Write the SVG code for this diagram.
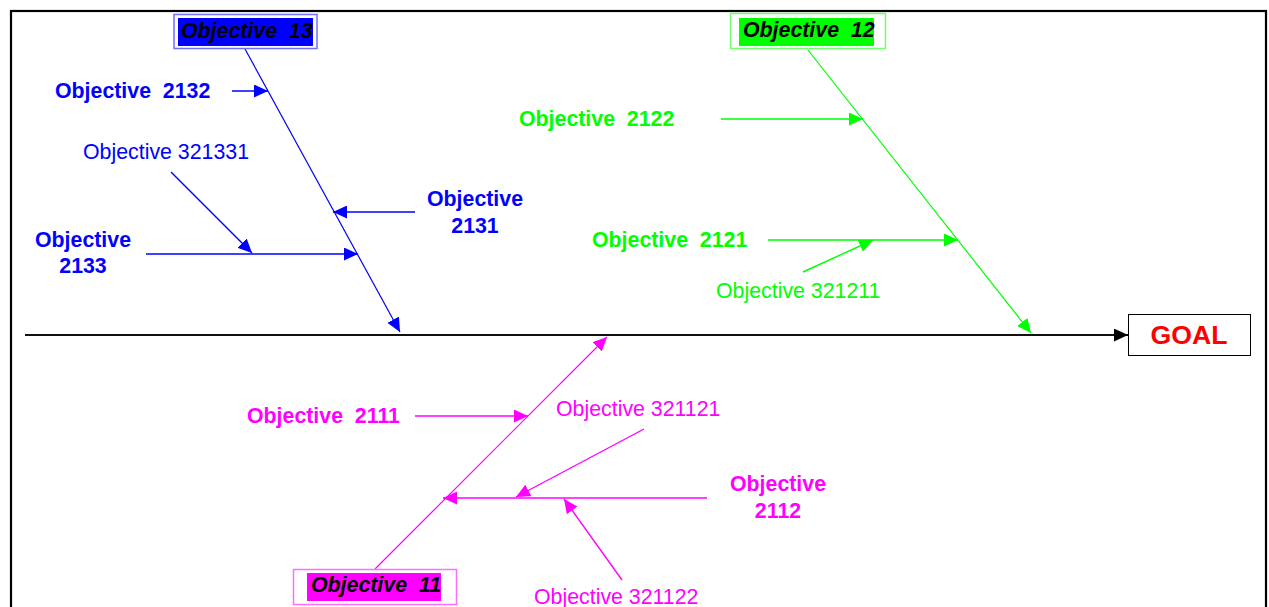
<svg xmlns="http://www.w3.org/2000/svg" width="1269" height="607" viewBox="0 0 1269 607">
  <style>
    text { font-family: "Liberation Sans", Arial, sans-serif; font-size: 21.33px; white-space: pre; }
    .b { font-weight: bold; }
    .hd { font-weight: bold; font-style: italic; fill: #000; }
    .blue { fill: #0000ff; }
    .green { fill: #00ff00; }
    .mag { fill: #ff00ff; }
    .mid { text-anchor: middle; }
    .lb { stroke: #0000ff; fill: none; }
    .lg { stroke: #00ff00; fill: none; }
    .lm { stroke: #ff00ff; fill: none; }
    .bone { stroke-width: 1.2; }
    .sub { stroke-width: 1.4; }
  </style>
  <defs>
    <marker id="ab" markerUnits="userSpaceOnUse" markerWidth="15" markerHeight="13" refX="14" refY="6.5" orient="auto">
      <path d="M0,0 L14,6.5 L0,13 Z" fill="#0000ff"/>
    </marker>
    <marker id="ag" markerUnits="userSpaceOnUse" markerWidth="15" markerHeight="13" refX="14" refY="6.5" orient="auto">
      <path d="M0,0 L14,6.5 L0,13 Z" fill="#00ff00"/>
    </marker>
    <marker id="am" markerUnits="userSpaceOnUse" markerWidth="15" markerHeight="13" refX="14" refY="6.5" orient="auto">
      <path d="M0,0 L14,6.5 L0,13 Z" fill="#ff00ff"/>
    </marker>
    <marker id="ak" markerUnits="userSpaceOnUse" markerWidth="15" markerHeight="13" refX="14" refY="6.5" orient="auto">
      <path d="M0,0 L14,6.5 L0,13 Z" fill="#000"/>
    </marker>
  </defs>

  <rect width="1269" height="607" fill="#fff"/>
  <!-- outer frame -->
  <rect x="11" y="11" width="1255" height="640" fill="none" stroke="#000" stroke-width="2.2"/>

  <!-- connectors -->
  <g id="connectors">
    <!-- main spine -->
    <line x1="25" y1="335" x2="1128" y2="335" stroke="#111" stroke-width="2" marker-end="url(#ak)"/>
    <!-- objective 13 branch -->
    <line class="lb bone" x1="245" y1="49" x2="400" y2="332" marker-end="url(#ab)"/>
    <line class="lb sub" x1="232" y1="91" x2="268" y2="91" marker-end="url(#ab)"/>
    <line class="lb sub" x1="415" y1="212" x2="333" y2="212" marker-end="url(#ab)"/>
    <line class="lb sub" x1="146" y1="254" x2="358" y2="254" marker-end="url(#ab)"/>
    <line class="lb sub" x1="171" y1="172" x2="252" y2="253" marker-end="url(#ab)"/>
    <!-- objective 12 branch -->
    <line class="lg bone" x1="808" y1="50" x2="1031" y2="333" marker-end="url(#ag)"/>
    <line class="lg sub" x1="721" y1="119" x2="863" y2="119" marker-end="url(#ag)"/>
    <line class="lg sub" x1="768" y1="240" x2="958" y2="240" marker-end="url(#ag)"/>
    <line class="lg sub" x1="803" y1="272" x2="873" y2="240" marker-end="url(#ag)"/>
    <!-- objective 11 branch -->
    <path d="M375,569 L607,337" stroke="#ff00ff" stroke-width="1.2" fill="none" marker-end="url(#am)"/>
    <line class="lm sub" x1="415" y1="416" x2="528" y2="416" marker-end="url(#am)"/>
    <line class="lm sub" x1="707" y1="498" x2="443" y2="498" marker-end="url(#am)"/>
    <line class="lm sub" x1="644" y1="429" x2="516" y2="497" marker-end="url(#am)"/>
    <line class="lm sub" x1="622" y1="580" x2="564" y2="499" marker-end="url(#am)"/>
  </g>

  <g id="goal">
    <rect x="1128.5" y="314.5" width="122" height="41" fill="#fff" stroke="#000" stroke-width="1"/>
    <text x="1189" y="344" class="b mid" style="font-size:26.67px" fill="#ff0000">GOAL</text>
  </g>

  <g id="obj13">
    <rect x="174" y="14.5" width="143" height="34" fill="none" stroke="#6f6fff" stroke-width="1.5"/>
    <rect x="178" y="18" width="135" height="28" fill="#0000ff"/>
    <text x="181" y="38" class="hd">Objective  13</text>
  </g>
  <g id="obj12">
    <rect x="730.5" y="13.5" width="155" height="35" fill="none" stroke="#6fff6f" stroke-width="1.5"/>
    <rect x="739" y="18" width="135" height="28" fill="#00ff00"/>
    <text x="743" y="37" class="hd">Objective  12</text>
  </g>
  <g id="obj11">
    <rect x="293.5" y="569.5" width="163" height="35" fill="none" stroke="#ff6fff" stroke-width="1.5"/>
    <rect x="307" y="573" width="134" height="28" fill="#ff00ff"/>
    <text x="311" y="592" class="hd">Objective  11</text>
  </g>

  <g id="obj2132"><text x="55" y="98" class="b blue">Objective  2132</text></g>
  <g id="obj321331"><text x="83" y="159" class="blue">Objective 321331</text></g>
  <g id="obj2133">
    <text x="83" y="247" class="b blue mid">Objective</text>
    <text x="83" y="273" class="b blue mid">2133</text>
  </g>
  <g id="obj2131">
    <text x="475" y="206" class="b blue mid">Objective</text>
    <text x="475" y="233" class="b blue mid">2131</text>
  </g>

  <g id="obj2122"><text x="519" y="126" class="b green">Objective  2122</text></g>
  <g id="obj2121"><text x="592" y="247" class="b green">Objective  2121</text></g>
  <g id="obj321211"><text x="716" y="298" class="green">Objective 321211</text></g>

  <g id="obj2111"><text x="247" y="423" class="b mag">Objective  2111</text></g>
  <g id="obj321121"><text x="556" y="416" class="mag">Objective 321121</text></g>
  <g id="obj2112">
    <text x="778" y="491" class="b mag mid">Objective</text>
    <text x="778" y="518" class="b mag mid">2112</text>
  </g>
  <g id="obj321122"><text x="534" y="604" class="mag">Objective 321122</text></g>
</svg>
